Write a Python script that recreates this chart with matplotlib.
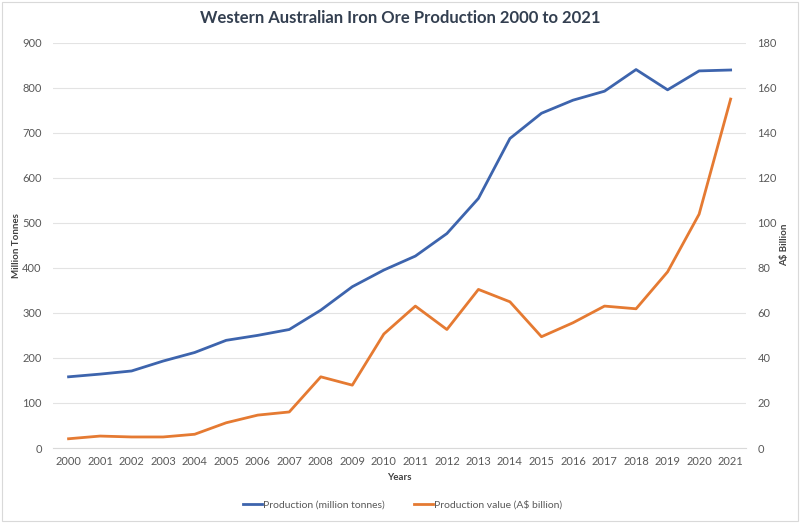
import matplotlib
matplotlib.use("Agg")
import matplotlib.pyplot as plt
from matplotlib.patches import Rectangle

years = list(range(2000, 2022))
production_mt = [158, 164, 171, 193, 212, 239, 250, 263, 306, 358, 395, 426,
                 476, 554, 687, 743, 772, 792, 840, 795, 837, 839]
value_bn = [4.1, 5.3, 4.9, 4.9, 6.1, 11.2, 14.6, 16.0, 31.6, 27.9, 50.6, 63.0,
            52.6, 70.4, 64.9, 49.4, 55.6, 63.0, 61.8, 78.2, 103.8, 154.9]

blue = "#3D64AD"
orange = "#E57A32"
grey = "#595959"

plt.rcParams['font.family'] = ['Lato', 'DejaVu Sans']

fig = plt.figure(figsize=(8, 5.23), dpi=100)
ax = fig.add_axes([0.066, 0.1434, 0.867, 0.7753])
ax2 = ax.twinx()

x = list(range(len(years)))
l1, = ax.plot(x, production_mt, color=blue, lw=2.0, label="Production (million tonnes)")
l2, = ax2.plot(x, value_bn, color=orange, lw=2.0, label="Production value (A$ billion)")

ax.set_xlim(-0.5, len(years) - 0.5)
ax.set_ylim(0, 900)
ax2.set_ylim(0, 180)
ax.set_yticks(range(0, 901, 100))
ax2.set_yticks(range(0, 181, 20))
ax.set_xticks(x)
ax.set_xticklabels([str(y) for y in years])

ax.grid(axis='y', color='#E3E3E3', lw=0.8)
ax.set_axisbelow(True)
for a in (ax, ax2):
    for s in a.spines.values():
        s.set_visible(False)
    a.tick_params(length=0, labelsize=8, colors=grey, pad=8)
ax.spines['bottom'].set_visible(True)
ax.spines['bottom'].set_color('#D9D9D9')
ax.tick_params(axis='x', pad=6)

ax.set_ylabel("Million Tonnes", fontsize=7, fontweight='bold', color='#404040', labelpad=1)
ax2.set_ylabel("A$ Billion", fontsize=7, fontweight='bold', color='#404040', labelpad=2)
ax.set_xlabel("Years", fontsize=7, fontweight='bold', color='#404040', labelpad=4)

fig.text(0.5, 0.965, "Western Australian Iron Ore Production 2000 to 2021",
         ha='center', va='center', fontsize=12, fontweight='bold', color='#333F50')

fig.legend(handles=[l1, l2], loc='center', bbox_to_anchor=(0.503, 0.035), ncol=2,
           frameon=False, fontsize=7.5, labelcolor=grey, handlelength=1.8,
           columnspacing=2.8, handletextpad=0.1)

fig.patches.append(Rectangle((0.002, 0.004), 0.996, 0.992, transform=fig.transFigure,
                             fill=False, edgecolor='#D9D9D9', lw=0.8))

fig.savefig("out.png", dpi=100)
